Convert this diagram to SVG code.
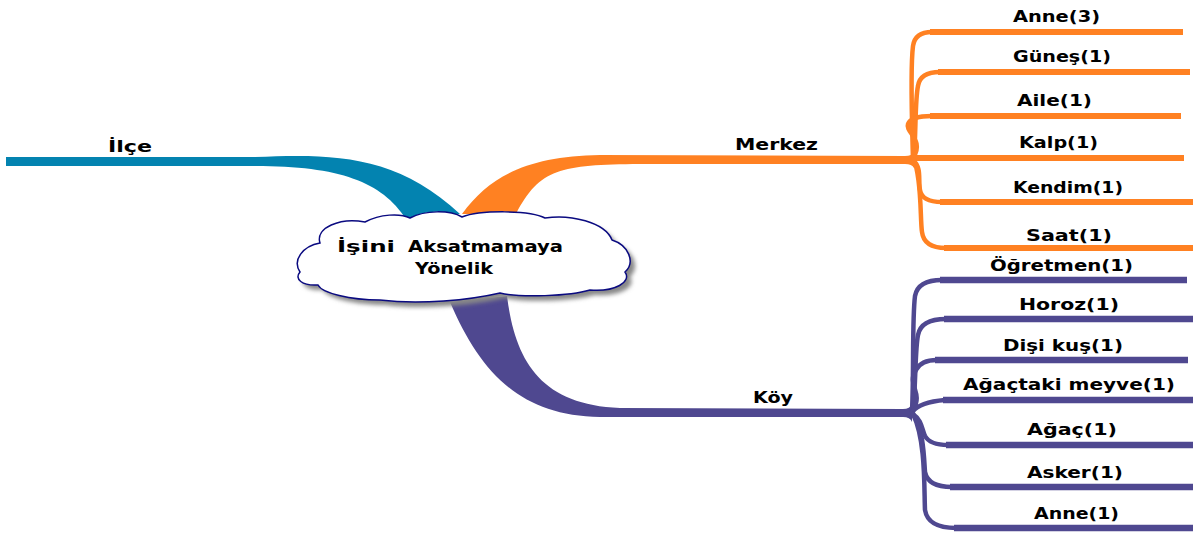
<svg xmlns="http://www.w3.org/2000/svg" width="1193" height="537" viewBox="0 0 1193 537">
<defs>
<style>
.lbl{font-family:"DejaVu Sans","Liberation Sans",sans-serif;font-weight:bold;font-size:16px;fill:#000}
.or{fill:none;stroke:#FF8122;stroke-width:6}
.orv{fill:none;stroke:#FF8122;stroke-width:4.5;stroke-linecap:round}
.pu{fill:none;stroke:#4F4890;stroke-width:6.5}
.puv{fill:none;stroke:#4F4890;stroke-width:4.5;stroke-linecap:round}
</style>
<filter id="sh" x="-10%" y="-20%" width="130%" height="150%">
<feGaussianBlur stdDeviation="2"/>
</filter>
<path id="cloud" d="M 300 272 C 292 260, 303 246, 320 243 C 315 228, 340 217, 365 222 C 380 214, 400 213, 410 218 C 425 210, 450 210, 462 217 C 480 210, 530 210, 545 218 C 570 214, 605 222, 612 240 C 628 245, 636 262, 625 272 C 632 282, 615 292, 590 290 C 570 296, 520 298, 500 293 C 470 300, 420 305, 380 300 C 350 300, 322 293, 318 285 C 302 286, 294 279, 300 272 Z"/>
</defs>
<rect width="1193" height="537" fill="#fff"/>
<g id="connectors">
<path d="M 6 157 L 255 157 C 330 154, 395 153, 460 214 L 406 219 C 382 182, 340 166, 255 166 L 6 166 Z" fill="#0383B0"/>
<path d="M 462 214 C 490 175, 530 156, 600 155 L 905 156 Q 912 156 914 152 L 914 168 Q 912 164 905 164 L 640 164 C 560 165, 540 168, 516 214 Z" fill="#FF8122"/>
<path d="M 507 296 C 515 360, 540 405, 620 408 L 903 409 Q 910 409 912 404 L 912 422 Q 910 417 903 417 L 600 417 C 520 416, 480 372, 450 302 Z" fill="#4F4890"/>
<path class="orv" d="M 913 160 C 912 120, 910 70, 913 46 Q 915 32 932 32"/>
<path class="or" d="M 930 32 L 1183 32"/>
<path class="orv" d="M 914 158 C 916 130, 915 100, 918 86 Q 920 72 940 72"/>
<path class="or" d="M 938 72 L 1190 72"/>
<path class="orv" d="M 913 158 C 925 140, 905 132, 908 124 Q 911 116 932 116"/>
<path class="or" d="M 930 116 L 1181 116"/>
<path class="or" d="M 912 158 L 1184 158"/>
<path class="orv" d="M 913 160 C 922 168, 918 180, 920 190 Q 922 202 942 202"/>
<path class="or" d="M 940 202 L 1193 202"/>
<path class="orv" d="M 914 160 C 922 180, 920 220, 922 232 Q 924 248 946 248"/>
<path class="or" d="M 944 248 L 1193 248"/>
<path class="puv" d="M 912 412 C 914 370, 912 320, 915 296 Q 918 280 942 280"/>
<path class="pu" d="M 940 280 L 1187 280"/>
<path class="puv" d="M 913 412 C 916 380, 915 350, 918 335 Q 921 319 946 319"/>
<path class="pu" d="M 944 319 L 1193 319"/>
<path class="puv" d="M 913 410 C 924 392, 906 385, 916 370 Q 921 360 937 360"/>
<path class="pu" d="M 935 360 L 1188 360"/>
<path class="puv" d="M 912 412 Q 920 402 945 400"/>
<path class="pu" d="M 943 400 L 1193 400"/>
<path class="puv" d="M 913 414 C 922 420, 922 430, 925 436 Q 930 445 948 445"/>
<path class="pu" d="M 946 445 L 1193 445"/>
<path class="puv" d="M 913 414 C 924 430, 924 460, 925 472 Q 928 487 952 487"/>
<path class="pu" d="M 950 487 L 1193 487"/>
<path class="puv" d="M 913 414 C 926 440, 924 490, 925 510 Q 928 528 956 528"/>
<path class="pu" d="M 954 528 L 1193 528"/>
</g>
<g id="node-center">
<use href="#cloud" transform="translate(5,5)" fill="#888" filter="url(#sh)"/>
<use href="#cloud" fill="#fff" stroke="#0A0A80" stroke-width="1.5"/>
<text class="lbl" y="252"><tspan x="337" textLength="58" lengthAdjust="spacingAndGlyphs">İşini</tspan><tspan x="408" textLength="155" lengthAdjust="spacingAndGlyphs">Aksatmamaya</tspan></text>
<text class="lbl" x="415" y="274" textLength="78" lengthAdjust="spacingAndGlyphs">Yönelik</text>
</g>
<g id="node-ilce"><text class="lbl" x="108" y="152" textLength="44" lengthAdjust="spacingAndGlyphs">İlçe</text></g>
<g id="node-merkez"><text class="lbl" x="735" y="150" textLength="83" lengthAdjust="spacingAndGlyphs">Merkez</text></g>
<g id="node-koy"><text class="lbl" x="753" y="403" textLength="40" lengthAdjust="spacingAndGlyphs">Köy</text></g>
<g id="node-anne3"><text class="lbl" x="1013" y="22" textLength="87" lengthAdjust="spacingAndGlyphs">Anne(3)</text></g>
<g id="node-gunes"><text class="lbl" x="1013" y="62" textLength="98" lengthAdjust="spacingAndGlyphs">Güneş(1)</text></g>
<g id="node-aile"><text class="lbl" x="1017" y="106" textLength="75" lengthAdjust="spacingAndGlyphs">Aile(1)</text></g>
<g id="node-kalp"><text class="lbl" x="1019" y="148" textLength="79" lengthAdjust="spacingAndGlyphs">Kalp(1)</text></g>
<g id="node-kendim"><text class="lbl" x="1013" y="193" textLength="110" lengthAdjust="spacingAndGlyphs">Kendim(1)</text></g>
<g id="node-saat"><text class="lbl" x="1026" y="241" textLength="86" lengthAdjust="spacingAndGlyphs">Saat(1)</text></g>
<g id="node-ogretmen"><text class="lbl" x="990" y="271" textLength="143" lengthAdjust="spacingAndGlyphs">Öğretmen(1)</text></g>
<g id="node-horoz"><text class="lbl" x="1019" y="310" textLength="100" lengthAdjust="spacingAndGlyphs">Horoz(1)</text></g>
<g id="node-disikus"><text class="lbl" x="1003" y="351" textLength="120" lengthAdjust="spacingAndGlyphs">Dişi kuş(1)</text></g>
<g id="node-meyve"><text class="lbl" x="963" y="390" textLength="212" lengthAdjust="spacingAndGlyphs">Ağaçtaki meyve(1)</text></g>
<g id="node-agac"><text class="lbl" x="1027" y="435" textLength="90" lengthAdjust="spacingAndGlyphs">Ağaç(1)</text></g>
<g id="node-asker"><text class="lbl" x="1027" y="478" textLength="96" lengthAdjust="spacingAndGlyphs">Asker(1)</text></g>
<g id="node-anne1"><text class="lbl" x="1034" y="519" textLength="85" lengthAdjust="spacingAndGlyphs">Anne(1)</text></g>
</svg>
